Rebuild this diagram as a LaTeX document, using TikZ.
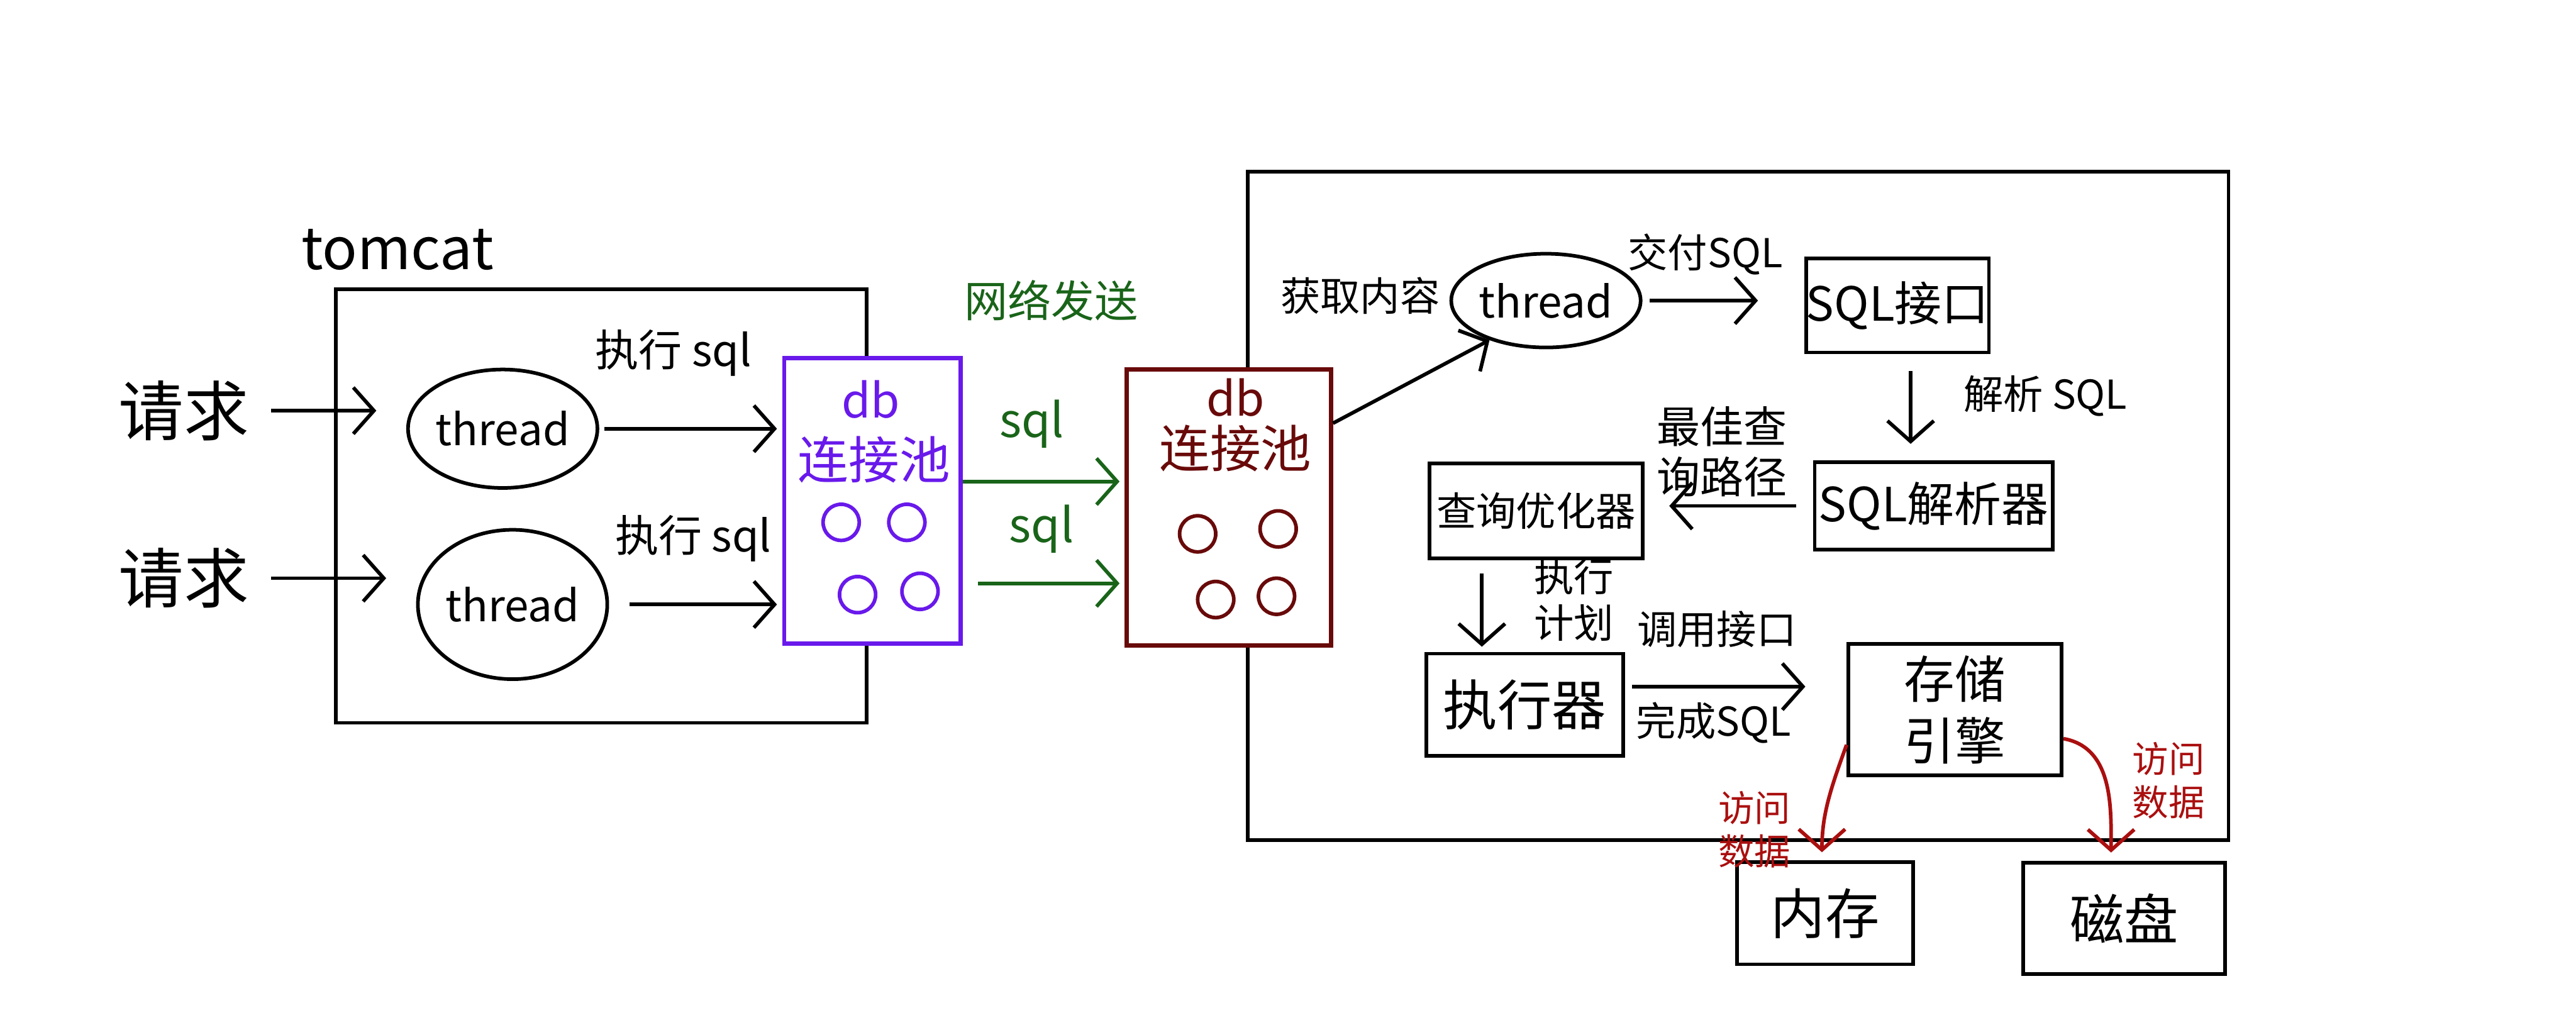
\documentclass[tikz,border=0pt]{standalone}
\usepackage{fontspec}
\setmainfont{Noto Sans CJK SC}
\usepackage{tikz}
\usetikzlibrary{arrows.meta}
\usetikzlibrary{shapes.geometric}
\usetikzlibrary{calc}

\definecolor{poolpurple}{RGB}{105,25,235}
\definecolor{poolred}{RGB}{105,10,10}
\definecolor{netgreen}{RGB}{25,100,25}
\definecolor{datared}{RGB}{170,15,15}

\begin{document}
\begin{tikzpicture}[x=0.015944cm,y=-0.015944cm,line width=1pt,
  arr/.style={-{Straight Barb[length=2mm,width=4.5mm]}},
  fs/.style={font=\fontsize{#1}{#1}\selectfont},
  box/.style={draw,inner sep=0pt,align=center},
  thr/.style={draw,ellipse,inner sep=0pt,fs=12},
  pool/.style={draw,fill=white,line width=1.2pt,inner sep=0pt}]

\useasboundingbox (0,0) rectangle (1568,627);

% tomcat side
\node[box,minimum width=5.15cm,minimum height=4.21cm] (tomcat) at (366,308) {};
\node[fs=16] (tomcatname) at (242,152) {tomcat};
\node[fs=18] (req1) at (112,250) {请求};
\node[fs=18] (req2) at (112,352) {请求};
\node[thr,minimum width=1.39cm,minimum height=1.15cm] (th1) at (306,261) {thread};
\node[thr,minimum width=1.39cm,minimum height=1.45cm] (th2) at (312,368) {thread};
\draw[arr,shorten <=0.08cm,shorten >=0.29cm] (req1) -- (req1 -| th1.west);
\draw[arr,shorten <=0.08cm,shorten >=0.29cm] (req2) -- (req2 -| th2.west);

\node[pool,draw=poolpurple,minimum width=1.71cm,minimum height=2.77cm] (pool1) at (531,305) {};
\node[fs=13,text=poolpurple] (db1) at (530,243) {db};
\node[fs=14,text=poolpurple] (link1) at (532,280) {连接池};
\foreach \x/\y in {512/318,552/318,522/362,560/360} \draw[poolpurple] (\x,\y) circle (11);

\draw[arr,shorten <=0.05cm,shorten >=0.05cm] (th1.east) -- (th1.east -| pool1.west);
\draw[arr,shorten <=0.2cm,shorten >=0.05cm] (th2.east) -- (th2.east -| pool1.west);
\node[fs=12] (exec1) at (410,215) {执行 sql};
\node[fs=12] (exec2) at (422,328) {执行 sql};

% mysql side
\node[box,minimum width=9.52cm,minimum height=6.49cm] (mysql) at (1058,308) {};
\node[pool,draw=poolred,minimum width=1.98cm,minimum height=2.68cm] (pool2) at (748,309) {};
\node[fs=13,text=poolred] (db2) at (752,242) {db};
\node[fs=14,text=poolred] (link2) at (752,273) {连接池};
\foreach \x/\y in {729/325,778/322,740/365,777/363} \draw[poolred] (\x,\y) circle (11);

% network
\node[fs=12,text=netgreen] (net) at (640,183) {网络发送};
\node[fs=13,text=netgreen] (sql1) at (628,258) {sql};
\node[fs=13,text=netgreen] (sql2) at (634,322) {sql};
\coordinate (out1) at (pool1.east |- sql1.south);
\coordinate (out2) at (pool1.east |- sql2.south);
\draw[arr,netgreen,shorten >=0.05cm] ($(out1)+(0,12)$) -- ($(out1 -| pool2.west)+(0,12)$);
\draw[arr,netgreen,shorten <=0.15cm,shorten >=0.05cm] ($(out2)+(0,10)$) -- ($(out2 -| pool2.west)+(0,10)$);

\node[fs=11] (fetch) at (828,180) {获取内容};
\node[thr,minimum width=1.39cm,minimum height=0.91cm] (th3) at (941,183) {thread};
\draw[arr] (pool2.39) -- (th3.215);

\node[box,fs=13,minimum width=1.59cm,minimum height=0.91cm] (sqlapi) at (1155,186) {SQL接口};
\node[box,fs=13,minimum width=2.31cm,minimum height=0.85cm] (parser) at (1177,308) {SQL解析器};
\node[box,fs=11,minimum width=2.07cm,minimum height=0.92cm] (optimizer) at (935,311) {查询优化器};
\node[box,fs=15,minimum width=1.91cm,minimum height=0.99cm] (executor) at (928,429) {执行器};
\node[box,font=\fontsize{14}{17}\selectfont,minimum width=2.07cm,minimum height=1.28cm] (storage) at (1190,432) {存储\\引擎};
\node[box,fs=15,minimum width=1.71cm,minimum height=0.99cm] (memory) at (1111,556) {内存};
\node[box,fs=15,minimum width=1.96cm,minimum height=1.08cm] (disk) at (1293,559) {磁盘};

\draw[arr,shorten <=0.07cm,shorten >=0.45cm] (th3.east) -- (th3.east -| sqlapi.west);
\node[fs=11] (hand) at (1038,155) {交付SQL};

\coordinate (apidown) at ($(sqlapi.south)+(8,0)$);
\draw[arr,shorten <=0.16cm,shorten >=0.16cm] (apidown) -- (apidown |- parser.north);
\node[fs=11] (parse) at (1245,241) {解析 SQL};

\draw[arr,shorten <=0.16cm,shorten >=0.24cm] (parser.west) -- (parser.west -| optimizer.east);
\node[font=\fontsize{12}{14}\selectfont,align=center] (best) at (1048,275) {最佳查\\询路径};

\coordinate (optdown) at ($(optimizer.south west)!0.25!(optimizer.south east)$);
\draw[arr,shorten <=0.13cm,shorten >=0.05cm] (optdown) -- (optdown |- executor.north);
\node[font=\fontsize{11}{13}\selectfont,align=center] (plan) at (958,365) {执行\\计划};

\coordinate (execout) at ($(executor.east)+(0,-11)$);
\draw[arr,shorten <=0.07cm,shorten >=0.4cm] (execout) -- (execout -| storage.west);
\node[fs=11] (call) at (1045,383) {调用接口};
\node[fs=11] (done) at (1043,440) {完成SQL};

% data access
\coordinate (memin) at ($(memory.north)+(-2,0)$);
\coordinate (diskin) at ($(disk.north)+(-8,0)$);
\draw[arr,datared,shorten >=0.08cm] (storage.198) to[out=250,in=90] (memin);
\draw[arr,datared,shorten >=0.08cm] (storage.345) to[out=-10,in=90] (diskin);
\node[font=\fontsize{10}{12}\selectfont,text=datared,align=center] (acc1) at (1068,505) {访问\\数据};
\node[font=\fontsize{10}{12}\selectfont,text=datared,align=center] (acc2) at (1320,475) {访问\\数据};

\end{tikzpicture}
\end{document}
